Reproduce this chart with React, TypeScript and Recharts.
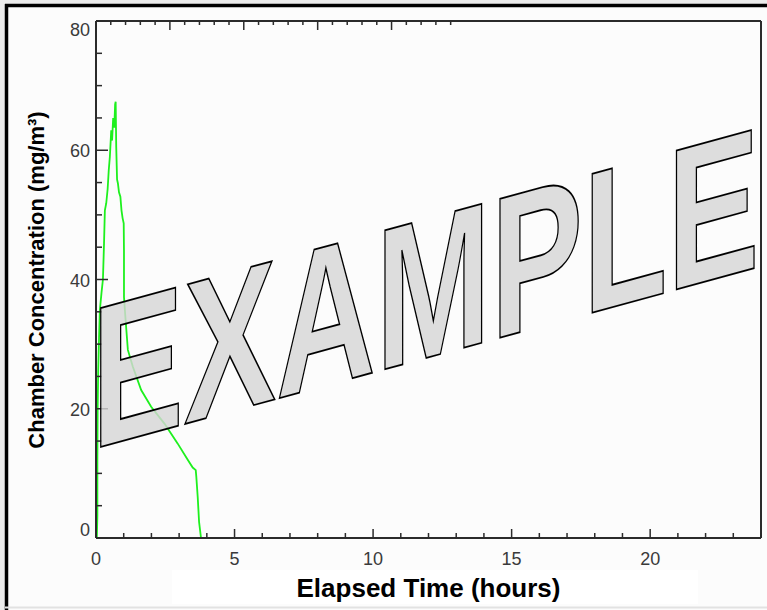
import { Line, LineChart, XAxis, YAxis } from "recharts";

// elapsed time (h) and chamber concentration (mg/m3)
const hours = [
  0, 0.03, 0.05, 0.05, 0.06, 0.08, 0.11, 0.14, 0.2, 0.25, 0.29, 0.32, 0.37, 0.42, 0.46, 0.5,
  0.55, 0.58, 0.62, 0.66, 0.69, 0.71, 0.73, 0.76, 0.79, 0.83, 0.88, 0.92, 0.96, 1.0, 1.01,
  1.01, 1.06, 1.15, 1.33, 1.63, 1.99, 2.47, 2.95, 3.31, 3.49, 3.6, 3.62, 3.67, 3.72, 3.79,
];
const concentration = [
  0, 0, 3.5, 12, 20, 26, 31, 35.3, 38, 40, 45.6, 50.7, 51.8, 54, 56.9, 59,
  63.1, 61.5, 65, 63.5, 67.1, 67.5, 60.5, 55.5, 54.9, 53.5, 52.8, 50.7, 49.5, 48.7, 44.5,
  37.3, 34.2, 29.1, 26.5, 22.9, 20.3, 17.7, 14.6, 12.1, 10.9, 10.5, 9.5, 6.4, 2.5, 0,
];

const xTicks = [0, 1, 2, 3, 4, 5, 6, 7, 8, 9, 10, 11, 12, 13, 14, 15, 16, 17, 18, 19, 20, 21, 22, 23, 24];
const yTicks = [0, 5, 10, 15, 20, 25, 30, 35, 40, 45, 50, 55, 60, 65, 70, 75, 80];
const xMajor = [0, 5, 10, 15, 20];
const yMajor = [0, 20, 40, 60, 80];

const xTitle = "Elapsed Time (hours)";
const yTitle = "Chamber Concentration (mg/m³)";
const stamp = "EXAMPLE";

const data = hours.map((t, i) => ({ t, c: concentration[i] }));

const W = 767;
const H = 610;
const PLOT = { left: 96, top: 21, right: 761, bottom: 538 };
const FONT = '"Liberation Sans", Arial, Helvetica, sans-serif';
const AXIS = "#2b2b2b";
const LABEL = "#3a3a3a";

function LeftTick({ y, payload }: any) {
  const major = yMajor.includes(payload.value);
  const dy = payload.value === 0 ? -8 : payload.value === 80 ? 9 : 1;
  return (
    <g>
      <line x1={PLOT.left} x2={PLOT.left + (major ? 12 : 6)} y1={y} y2={y} stroke={AXIS} strokeWidth={1.5} />
      {major && (
        <text x={PLOT.left - 6} y={y + dy} textAnchor="end" dominantBaseline="central"
          fontSize={18} fill={LABEL} fontFamily={FONT}>
          {payload.value}
        </text>
      )}
    </g>
  );
}

function RightTick({ y, payload }: any) {
  const major = yMajor.includes(payload.value);
  return <line x1={PLOT.right} x2={PLOT.right - (major ? 12 : 6)} y1={y} y2={y} stroke={AXIS} strokeWidth={1.5} />;
}

function BottomTick({ x, payload }: any) {
  const major = xMajor.includes(payload.value);
  return (
    <g>
      <line x1={x} x2={x} y1={PLOT.bottom} y2={PLOT.bottom - (major ? 9 : 5)} stroke={AXIS} strokeWidth={1.5} />
      {major && (
        <text x={x} y={PLOT.bottom + 21} textAnchor="middle" dominantBaseline="central"
          fontSize={18} fill={LABEL} fontFamily={FONT}>
          {payload.value}
        </text>
      )}
    </g>
  );
}

function TopTick({ x, payload }: any) {
  const major = xMajor.includes(payload.value);
  return <line x1={x} x2={x} y1={PLOT.top} y2={PLOT.top + (major ? 9 : 4)} stroke={AXIS} strokeWidth={1.5} />;
}

const renderXTitle = () => (
  <g>
    <rect x={172} y={570} width={526} height={34} fill="#ffffff" />
    <text x={(PLOT.left + PLOT.right) / 2} y={597} textAnchor="middle" fontSize={26}
      fontWeight="bold" fill="#000" fontFamily={FONT}>
      {xTitle}
    </text>
  </g>
);

const renderYTitle = () => (
  <text x={36} y={280} transform="rotate(-90 36 280)" textAnchor="middle" dominantBaseline="central"
    fontSize={22} fontWeight="bold" fill="#000" fontFamily={FONT}>
    {yTitle}
  </text>
);

export default function App() {
  return (
    <div style={{ position: "absolute", left: 0, top: 0, width: W, height: H, background: "#fcfcfc" }}>
      <LineChart width={W} height={H} data={data} margin={{ top: 0, right: 0, bottom: 0, left: 0 }}>
        <XAxis dataKey="t" type="number" domain={[0, 24]} ticks={xTicks} interval={0} height={72}
          tick={<BottomTick />} tickLine={false} axisLine={{ stroke: AXIS, strokeWidth: 2 }}
          label={renderXTitle} />
        <XAxis xAxisId="top" orientation="top" type="number" domain={[0, 24]} ticks={xTicks}
          interval={0} height={PLOT.top} tick={<TopTick />} tickLine={false}
          axisLine={{ stroke: AXIS, strokeWidth: 2 }} />
        <YAxis type="number" domain={[0, 80]} ticks={yTicks} interval={0} width={PLOT.left}
          tick={<LeftTick />} tickLine={false} axisLine={{ stroke: AXIS, strokeWidth: 2 }}
          label={renderYTitle} />
        <YAxis yAxisId="right" orientation="right" type="number" domain={[0, 80]} ticks={yTicks}
          interval={0} width={W - PLOT.right} tick={<RightTick />} tickLine={false}
          axisLine={{ stroke: AXIS, strokeWidth: 2 }} />
        <Line dataKey="c" type="linear" stroke="#1ef01e" strokeWidth={1.8} dot={false}
          isAnimationActive={false} />
      </LineChart>
      <svg width={W} height={H} style={{ position: "absolute", left: 0, top: 0, pointerEvents: "none" }}>
        <rect x={0} y={0} width={W} height={4} fill="#ececec" />
        <rect x={0} y={0} width={5} height={H} fill="#ececec" />
        <line x1={5} x2={W} y1={5.5} y2={5.5} stroke="#000" strokeWidth={3.5} />
        <line x1={6.5} x2={6.5} y1={4} y2={H} stroke="#000" strokeWidth={3.5} />
        <line x1={5} x2={W} y1={607.5} y2={607.5} stroke="#e2e2e2" strokeWidth={2} />
        <text transform="translate(91.6 449.5) matrix(0.684 -0.187 0 1 0 0)" fontSize={202}
          fontWeight="bold" fontFamily={FONT} fill="#d6d6d6" fillOpacity={0.82} stroke="#000"
          strokeWidth={1.6} vectorEffect="non-scaling-stroke" strokeLinejoin="miter">
          {stamp}
        </text>
      </svg>
    </div>
  );
}
